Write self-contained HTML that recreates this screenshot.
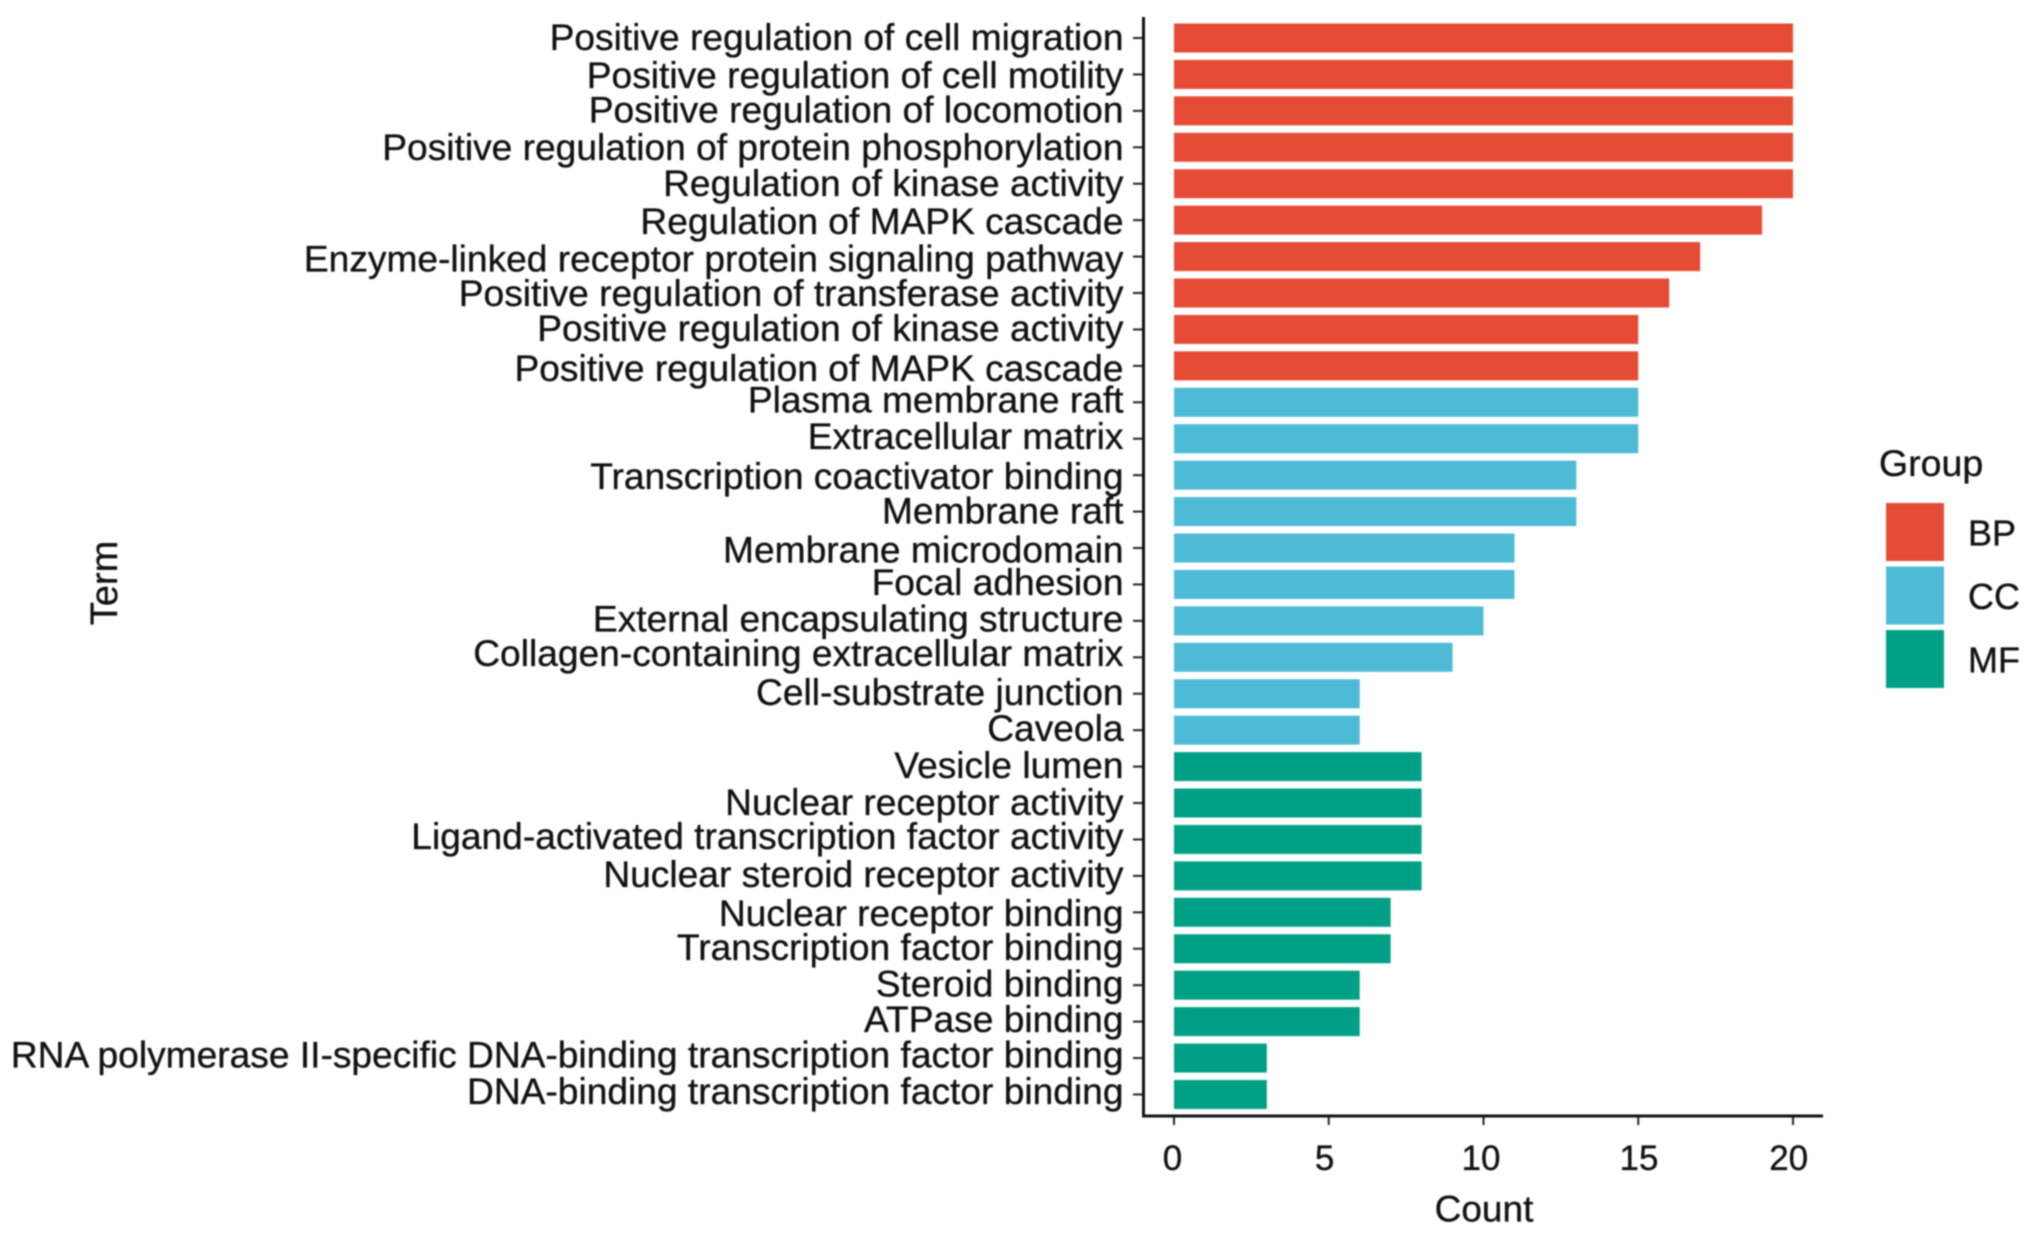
<!DOCTYPE html>
<html lang="en">
<head>
<meta charset="utf-8">
<title>GO term counts</title>
<style>
html,body{margin:0;padding:0;background:#fff;width:2032px;height:1234px;overflow:hidden}
svg{display:block;filter:blur(0.7px);font-family:"Liberation Sans",Arial,sans-serif;fill:#111}
text{stroke:#111;stroke-width:0.35px}
</style>
</head>
<body>
<svg id="chart" xmlns="http://www.w3.org/2000/svg" width="2032" height="1234" viewBox="0 0 2032 1234">
  <rect x="0" y="0" width="2032" height="1234" fill="#ffffff"/>
  <g id="bars"></g>
  <g id="yticks"></g>
  <g id="xticks"></g>
  <line x1="1143.5" y1="17" x2="1143.5" y2="1117.5" stroke="#111" stroke-width="3"/>
  <line x1="1142" y1="1116" x2="1823" y2="1116" stroke="#111" stroke-width="3"/>
  <text x="1484" y="1221.5" font-size="37" text-anchor="middle">Count</text>
  <text transform="translate(117,583) rotate(-90)" font-size="38" text-anchor="middle">Term</text>
  <text x="1879" y="476" font-size="37.5">Group</text>
  <g id="legend"></g>
</svg>
<script>
const terms = ["Positive regulation of cell migration","Positive regulation of cell motility","Positive regulation of locomotion","Positive regulation of protein phosphorylation","Regulation of kinase activity","Regulation of MAPK cascade","Enzyme-linked receptor protein signaling pathway","Positive regulation of transferase activity","Positive regulation of kinase activity","Positive regulation of MAPK cascade","Plasma membrane raft","Extracellular matrix","Transcription coactivator binding","Membrane raft","Membrane microdomain","Focal adhesion","External encapsulating structure","Collagen-containing extracellular matrix","Cell-substrate junction","Caveola","Vesicle lumen","Nuclear receptor activity","Ligand-activated transcription factor activity","Nuclear steroid receptor activity","Nuclear receptor binding","Transcription factor binding","Steroid binding","ATPase binding","RNA polymerase II-specific DNA-binding transcription factor binding","DNA-binding transcription factor binding"];
const counts = [20,20,20,20,20,19,17,16,15,15,15,15,13,13,11,11,10,9,6,6,8,8,8,8,7,7,6,6,3,3];
const groups = ["BP","BP","BP","BP","BP","BP","BP","BP","BP","BP","CC","CC","CC","CC","CC","CC","CC","CC","CC","CC","MF","MF","MF","MF","MF","MF","MF","MF","MF","MF"];
const xTickValues = [0,5,10,15,20];
const legendGroups = ["BP","CC","MF"];

const groupColor = {BP:"#E64B35",CC:"#4DBBD5",MF:"#00A087"};
const labelOffset = [11.3,12.9,10.8,12,11.3,12.8,14.1,12,10.6,14.1,9.4,9.6,13.1,11.1,13.7,9.9,9.8,7.7,10.3,9.8,10.7,11.3,8.8,10.1,12.7,10.6,10.5,9.4,8.7,8.8];
const xLabelShift = [-1.5,-4.2,-2.5,0.75,-4.3];

const NS = "http://www.w3.org/2000/svg";
function xScale(v){ return 1174 + v * 30.95; }
function yScale(i){ return 38 + i * 36.43; }
const BAR_H = 29;
function make(tag, attrs, parent){
  const el = document.createElementNS(NS, tag);
  for (const k in attrs) el.setAttribute(k, attrs[k]);
  parent.appendChild(el);
  return el;
}
const barsG = document.getElementById("bars");
const yticksG = document.getElementById("yticks");
const xticksG = document.getElementById("xticks");
const legendG = document.getElementById("legend");

counts.forEach(function(c, i){
  const cy = yScale(i);
  const bar = make("rect", {x:xScale(0), y:cy - BAR_H/2, width:xScale(c)-xScale(0), height:BAR_H, fill:groupColor[groups[i]]}, barsG);
  
  
  const tick = make("line", {x1:1133, x2:1143, y1:cy, y2:cy, stroke:"#222", "stroke-width":2}, yticksG);
  
  
  const label = make("text", {x:1123.5, y:cy + labelOffset[i] + 0.8, "font-size":37.15, "text-anchor":"end"}, yticksG);
  label.textContent = terms[i];
  
  
});

xTickValues.forEach(function(v, i){
  const x = xScale(v);
  const tick = make("line", {x1:x, x2:x, y1:1116, y2:1125, stroke:"#222", "stroke-width":2}, xticksG);
  
  
  const label = make("text", {x:x + xLabelShift[i], y:1170, "font-size":35, "text-anchor":"middle"}, xticksG);
  label.textContent = String(v);
  
  
});

legendGroups.forEach(function(g, i){
  const top = 503 + i * 63.5;
  const swatch = make("rect", {x:1886, y:top, width:58, height:58, fill:groupColor[g]}, legendG);
  
  
  const label = make("text", {x:1968, y:top + 42.5, "font-size":36}, legendG);
  label.textContent = g;
  
  
});
</script>
</body>
</html>
